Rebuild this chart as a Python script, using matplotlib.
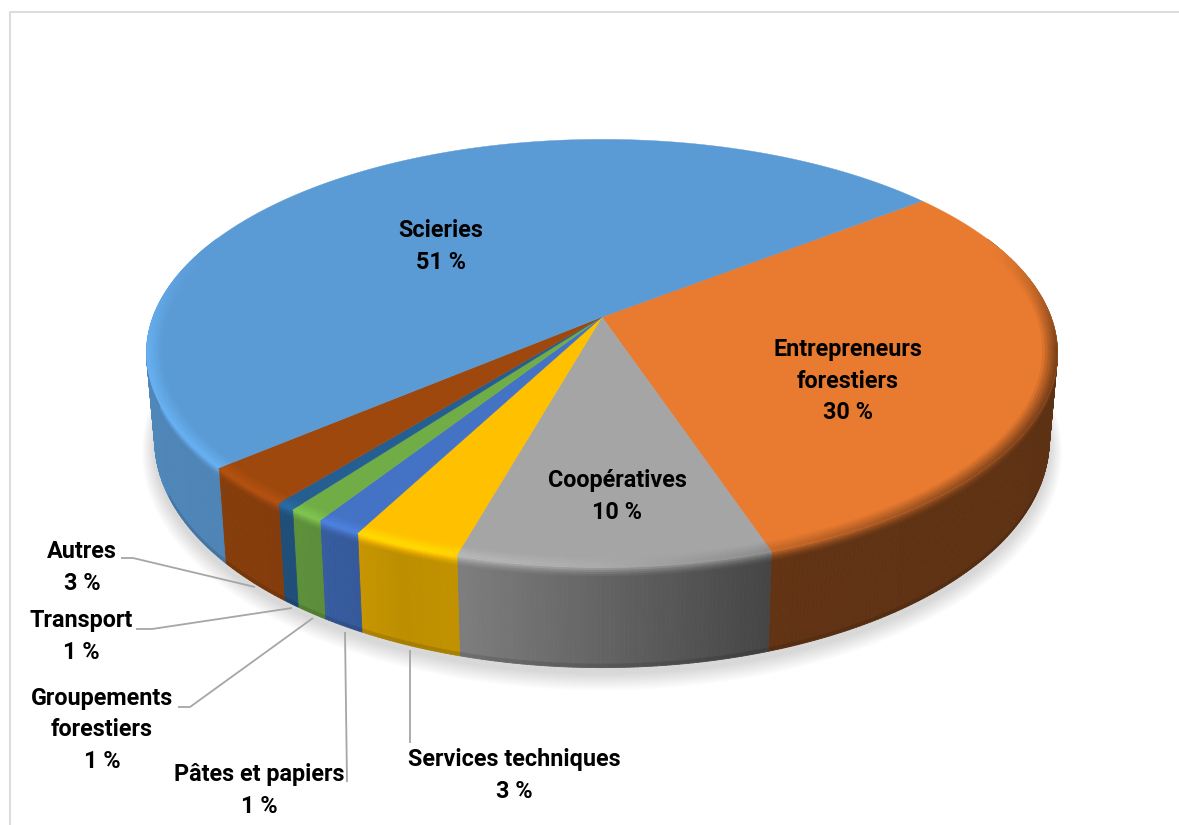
import numpy as np
import matplotlib
matplotlib.use("Agg")
import matplotlib.pyplot as plt
from matplotlib.collections import PolyCollection
from matplotlib.colors import to_rgb

# ---- data ----
categories = ["Scieries", "Entrepreneurs\nforestiers", "Coopératives", "Services techniques",
              "Pâtes et papiers", "Groupements\nforestiers", "Transport", "Autres"]
shares = [50.65, 30.45, 9.5, 3.3, 1.4, 1.1, 0.6, 3.0]
colors = ["#5B9BD5", "#E97B30", "#A5A5A5", "#FFC000", "#4472C4", "#70AD47", "#255E91", "#9E480E"]

# ---- layout ----
W, H = 1179, 825
CX, CY = 602.0, 317.0
A, B, K = 449.0, 207.5, 0.168
START = 38.1
DROP_SX, DROP_SY, DROP_D = 0.982, 1.065, 85.0
FONT, FS = "Roboto", 16.8

fig = plt.figure(figsize=(W / 100, H / 100), dpi=100)
ax = fig.add_axes([0, 0, 1, 1])
ax.set_xlim(0, W)
ax.set_ylim(H, 0)
ax.axis("off")


def top(theta, r=1.0):
    u, v = r * np.cos(theta), r * np.sin(theta)
    d = 1 + K * v
    return A * u / d, -B * v / d


def drop(X, Y, t=1.0):
    return (X * (1 + (DROP_SX - 1) * t), Y * (1 + (DROP_SY - 1) * t) + DROP_D * t)


side_x = [150, 300, 400, 460, 770, 1050]
side_f = [0.87, 0.83, 0.74, 0.76, 0.42, 0.40]
rim_x = [150, 420, 600, 770, 1050]
rim_f = [1.14, 1.14, 1.04, 0.85, 0.52]


def shade(rgb, f):
    return tuple(np.clip(np.array(rgb) * f, 0, 1))


# frame
ax.plot([W, 10, 10], [12, 12, H], color="#DCDCDC", lw=1.5, zorder=1)

# soft shadow
th = np.linspace(0, 2 * np.pi, 361)
X, Y = top(th)
X, Y = drop(X, Y)
for g in np.linspace(20, 1, 13):
    ax.fill(CX + X * (1 + g / 700), CY + Y * (1 + g / 420) + 6, color="k", alpha=0.010, lw=0, zorder=2)

# slices: running clockwise from the start angle, orange first, Scieries last
order = list(range(1, len(shares))) + [0]
total = sum(shares)
edge = np.radians(START)
rows = [0, 0.02, 0.04, 0.06, 0.08, 0.10, 0.965, 1.0]
mix = [0.0, 0.3, 0.55, 0.75, 0.9, 1.0, 1.0]
mult = [1, 1, 1, 1, 1, 1, 0.88]
for i in order:
    span = np.radians(shares[i] / total * 360)
    n = max(4, int(np.degrees(span) * 2))
    th = np.linspace(edge, edge - span, n + 1)
    rgb = to_rgb(colors[i])
    polys, fcs = [], []
    for a0, a1 in zip(th[:-1], th[1:]):
        s = np.sin((a0 + a1) / 2)
        if s > 0.4:
            continue
        X0, Y0 = top(a0)
        X1, Y1 = top(a1)
        xm = CX + (X0 + X1) / 2
        fs = np.interp(xm, side_x, side_f)
        fr = np.interp(xm, rim_x, rim_f)
        for t0, t1, m, k in zip(rows[:-1], rows[1:], mix, mult):
            p = [drop(X0, Y0, t0), drop(X1, Y1, t0), drop(X1, Y1, t1), drop(X0, Y0, t1)]
            polys.append([(CX + a, CY + b) for a, b in p])
            fcs.append(shade(rgb, (fr + (fs - fr) * m) * (k if s < -0.4 else 1)))
    if polys:
        ax.add_collection(PolyCollection(polys, facecolors=fcs, edgecolors=fcs, linewidths=0.6, zorder=3))
    # top face
    X, Y = top(th)
    ax.fill(np.r_[CX, CX + X], np.r_[CY, CY + Y], color=colors[i], lw=0.3, zorder=4)
    # bevelled rim of the top face
    polys, fcs = [], []
    radii = [0.968, 0.974, 0.980, 0.986, 0.991, 0.996, 1.0]
    wt = [0.15, 0.35, 0.55, 0.72, 0.88, 1.0]
    for a0, a1 in zip(th[:-1], th[1:]):
        s = np.sin((a0 + a1) / 2)
        if s > 0.35:
            continue
        xm = CX + (top(a0)[0] + top(a1)[0]) / 2
        fr = np.interp(xm, rim_x, rim_f)
        fade = min(1, (0.35 - s) / 0.5)
        for r0, r1, w in zip(radii[:-1], radii[1:], wt):
            x00, y00 = top(a0, r0); x10, y10 = top(a1, r0)
            x01, y01 = top(a0, r1); x11, y11 = top(a1, r1)
            polys.append([(CX + x00, CY + y00), (CX + x10, CY + y10), (CX + x11, CY + y11), (CX + x01, CY + y01)])
            fcs.append(shade(rgb, 1 + (fr - 1) * w * fade))
    if polys:
        ax.add_collection(PolyCollection(polys, facecolors=fcs, edgecolors=fcs, linewidths=0.3, zorder=5))
    edge -= span

# leader lines
LEAD = [([121, 133, 255], [558, 558, 587]),
        ([136, 152, 292], [629, 629, 608]),
        ([178, 190, 313], [707, 707, 618]),
        ([347, 345], [782, 632]),
        ([410, 410], [743, 650])]
for xs, ys in LEAD:
    ax.plot(xs, ys, color="#A6A6A6", lw=1.3, zorder=6, solid_capstyle="butt")

# labels
POS = [(441, 246.5), (848, 381), (617, 496.5), (514, 775.5),
       (259, 790.5), (102, 730), (81, 636.5), (82, 567.5)]
for name, v, (x, y) in zip(categories, shares, POS):
    ax.text(x, y, f"{name}\n{round(v)} %", ha="center", va="center", ma="center", family=FONT,
            fontweight="bold", fontsize=FS, color="black", linespacing=1.45, zorder=7)

fig.savefig("out.png", dpi=100, facecolor="white")
